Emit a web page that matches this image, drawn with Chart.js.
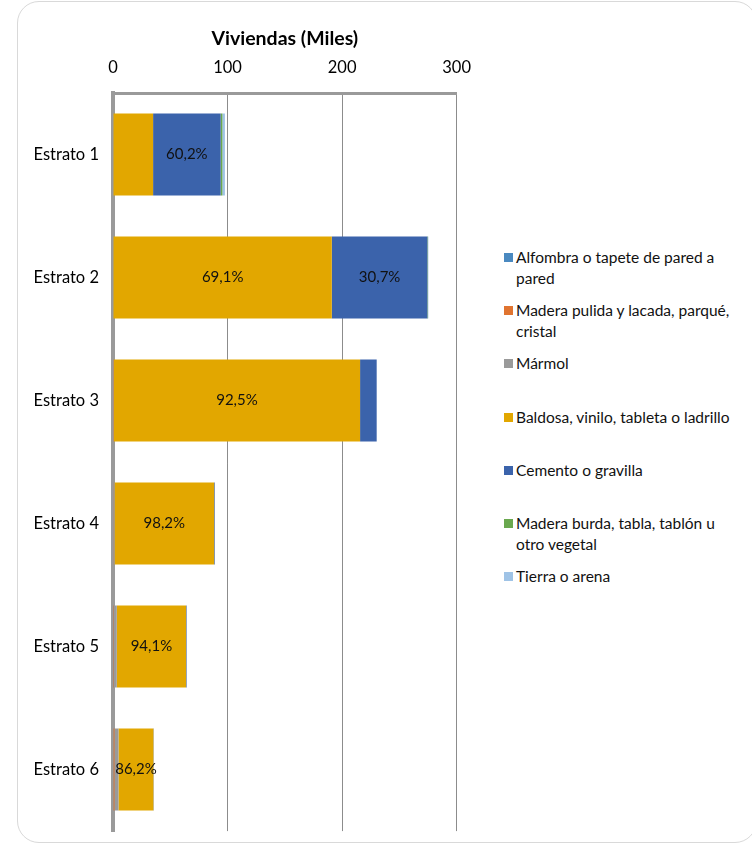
<!DOCTYPE html>
<html>
<head>
<meta charset="utf-8">
<script src="https://cdn.jsdelivr.net/npm/chart.js@4.4.1/dist/chart.umd.min.js"></script>
<style>
  html, body { margin: 0; padding: 0; background: #ffffff; }
  body { width: 752px; height: 847px; position: relative; overflow: hidden; font-family: Lato, "Open Sans", sans-serif; }
  #card { position: absolute; left: 17px; top: 1px; width: 740px; height: 842px; border: 1px solid #d9d9d9; border-radius: 22px; box-sizing: border-box; }
  #c { position: absolute; left: 0; top: 0; }
  #legend { position: absolute; left: 504px; top: 0; width: 240px; }
  .item { position: absolute; left: 0; width: 240px; font-size: 15.5px; line-height: 21px; color: #111; }
  .sw { position: absolute; left: 0; top: 6px; width: 9px; height: 9px; }
  .tx { margin-left: 12px; display: block; width: 222px; }
</style>
</head>
<body>
<div id="card"></div>
<canvas id="c" width="486" height="847"></canvas>
<div id="legend"></div>
<script>
// ---- Data (thousands of dwellings) ----
const categories = ["Estrato 1", "Estrato 2", "Estrato 3", "Estrato 4", "Estrato 5", "Estrato 6"];
const seriesNames = [
  "Alfombra o tapete de pared a pared",
  "Madera pulida y lacada, parqué, cristal",
  "Mármol",
  "Baldosa, vinilo, tableta o ladrillo",
  "Cemento o gravilla",
  "Madera burda, tabla, tablón u otro vegetal",
  "Tierra o arena"
];
const alfombra     = [0,    0,    0,    0,   0.3,  0.5];
const maderaPulida = [0,    0,    0.2,  0.3, 0.5,  0.8];
const marmol       = [0,    0,    0.5,  1.0, 2.5,  3.5];
const baldosa      = [35,   191,  215,  87,  60.5, 30.5];
const cemento      = [59,   83.5, 14.5, 0.6, 0.5,  0.3];
const maderaBurda  = [1.5,  0.5,  0,    0,   0,    0];
const tierra       = [2.2,  0.3,  0,    0,   0,    0];
const baldosaLabels = ["", "69,1%", "92,5%", "98,2%", "94,1%", "86,2%"];
const cementoLabels = ["60,2%", "30,7%", "", "", "", ""];
const xTicks = [0, 100, 200, 300];
const axisTitle = "Viviendas (Miles)";

const colors = ["#4a89c0", "#e07430", "#9a9a9a", "#e2a700", "#3b63ab", "#6aa84f", "#9fc3e6"];
const seriesValues = [alfombra, maderaPulida, marmol, baldosa, cemento, maderaBurda, tierra];
const seriesLabels = [null, null, null, baldosaLabels, cementoLabels, null, null];

const datasets = seriesNames.map((name, i) => ({
  label: name,
  data: seriesValues[i],
  backgroundColor: colors[i],
  borderWidth: 0,
  barPercentage: 0.667,
  categoryPercentage: 1.0,
  valueLabels: seriesLabels[i]
}));

const labelPlugin = {
  id: 'valueLabels',
  afterDatasetsDraw(chart) {
    const ctx = chart.ctx;
    ctx.save();
    ctx.font = '15px Lato, "Open Sans", sans-serif';
    ctx.fillStyle = '#111';
    ctx.textAlign = 'center';
    ctx.textBaseline = 'middle';
    chart.data.datasets.forEach((ds, i) => {
      if (!ds.valueLabels) return;
      const meta = chart.getDatasetMeta(i);
      meta.data.forEach((el, j) => {
        const t = ds.valueLabels[j];
        if (!t) return;
        const cx = (el.x + el.base) / 2;
        ctx.fillText(t, cx, el.y);
      });
    });
    ctx.restore();
  }
};

new Chart(document.getElementById('c'), {
  type: 'bar',
  data: { labels: categories, datasets },
  plugins: [labelPlugin],
  options: {
    indexAxis: 'y',
    responsive: false,
    animation: false,
    layout: { padding: { left: 0, right: 16, top: 0, bottom: 15 } },
    plugins: { legend: { display: false }, tooltip: { enabled: false } },
    scales: {
      x: {
        position: 'top',
        stacked: true,
        min: 0, max: 300,
        afterBuildTicks: (s) => { s.ticks = xTicks.map(v => ({ value: v })); },
        afterFit: (s) => { s.height = 93; },
        ticks: { color: '#000', font: { size: 16.5, family: 'Lato' }, padding: 15 },
        grid: { color: '#8c8c8c', lineWidth: 1, drawTicks: false },
        border: { display: true, color: '#9a9a9a', width: 3 },
        title: { display: true, text: axisTitle, color: '#000', font: { size: 19.5, weight: 'bold', family: 'Lato' }, padding: { top: 27, bottom: 0 } }
      },
      y: {
        stacked: true,
        afterFit: (s) => { s.width = 113; },
        ticks: { color: '#000', font: { size: 16.5, family: 'Lato' }, padding: 6 },
        grid: { display: false },
        border: { display: true, color: '#9a9a9a', width: 4 }
      }
    }
  }
});

// HTML legend built from the series arrays
const legend = document.getElementById('legend');
seriesNames.forEach((name, i) => {
  const d = document.createElement('div');
  d.className = 'item';
  d.style.top = (247 + i * 53.2) + 'px';
  d.innerHTML = '<span class="sw" style="background:' + colors[i] + '"></span><span class="tx"></span>';
  d.querySelector('.tx').textContent = name;
  legend.appendChild(d);
});
</script>
</body>
</html>
